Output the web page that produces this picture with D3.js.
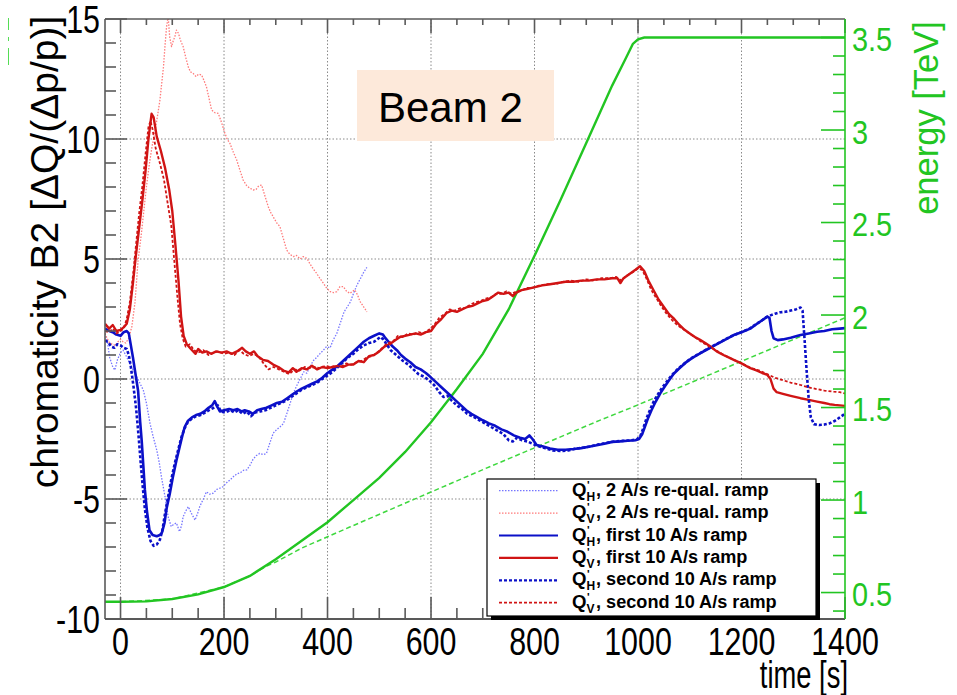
<!DOCTYPE html>
<html>
<head>
<meta charset="utf-8">
<script src="https://cdn.jsdelivr.net/npm/d3@7"></script>
<style>
	body { margin: 0; background: #ffffff; }
	svg { display: block; font-family: "Liberation Sans", Arial, sans-serif; }
</style>
</head>
<body>
<div id="div_id_main"></div>
<script>

// ---------------------------------------------------------------
// data, read off the picture : [time (s), chromaticity] / [time (s), energy (TeV)]

var vTimeTicks = [0, 200, 400, 600, 800, 1000, 1200, 1400];
var vChromaTicks = [-10, -5, 0, 5, 10, 15];
var vEnergyTicks = [0.5, 1, 1.5, 2, 2.5, 3, 3.5];

var vLegendNames = ["2 A/s re-qual. ramp", "2 A/s re-qual. ramp", "first 10 A/s ramp",
					"first 10 A/s ramp", "second 10 A/s ramp", "second 10 A/s ramp"];
var vLegendPlanes = ["H", "V", "H", "V", "H", "V"];

var dsEnergy_10As = [[-30,0.45],[0,0.45],[50,0.452],[100,0.465],[150,0.49],[200,0.53],[250,0.59],[300,0.68],
	[350,0.78],[400,0.88],[450,1.0],[500,1.12],[550,1.26],[600,1.42],[650,1.6],[700,1.79],[750,2.03],
	[800,2.32],[850,2.62],[900,2.93],[950,3.24],[975,3.38],[990,3.465],[1000,3.49],[1012,3.5],[1400,3.5]];

var dsEnergy_2As = [[-30,0.45],[0,0.45],[100,0.465],[200,0.53],[250,0.59],[280,0.64],[300,0.665],[350,0.74],
	[443,0.854],[705,1.17],[927,1.432],[985,1.497],[1400,1.985]];

var dsQH_2As = [[-30,1.9],[-25,1.5],[-21,0.9],[-15,0.5],[-11,0.37],[-6,0.8],[0,1.1],[5,1.2],[10,1.0],[18,0.65],
	[25,0.35],[31,0.1],[38,-0.2],[44,-0.46],[50,-1.0],[57,-1.85],[63,-2.4],[70,-2.96],[75,-3.5],[79,-4.07],
	[86,-4.9],[92,-5.74],[98,-6.15],[103,-6.05],[108,-6.0],[114,-6.36],[118,-6.1],[121,-5.74],[126,-5.5],
	[131,-5.32],[137,-5.6],[144,-5.88],[149,-5.6],[153,-5.32],[160,-5.0],[166,-4.7],[172,-4.8],[179,-4.76],
	[186,-4.6],[192,-4.55],[198,-4.49],[206,-4.3],[212,-4.2],[218,-4.07],[225,-3.95],[232,-3.9],[238,-3.8],
	[244,-3.79],[250,-3.6],[256,-3.35],[262,-3.2],[269,-3.1],[276,-3.15],[282,-3.1],[288,-2.7],[295,-2.26],
	[302,-2.1],[308,-2.0],[315,-1.85],[322,-1.4],[328,-1.0],[334,-0.6],[340,-0.3],[347,0.0],[354,0.3],
	[360,0.24],[366,0.5],[372,0.75],[379,0.9],[386,1.07],[392,1.2],[398,1.35],[405,1.3],[411,1.63],[418,1.9],
	[425,2.35],[432,2.8],[438,3.0],[444,3.2],[450,3.55],[457,3.92],[464,4.2],[470,4.45],[476,4.65]];

var dsQV_2As = [[-30,1.9],[-26,1.7],[-21,1.5],[-16,1.45],[-10,1.4],[-5,1.55],[0,1.65],[5,1.55],[10,1.5],[16,1.7],
	[22,2.2],[28,3.2],[34,4.96],[40,6.0],[45,7.0],[50,8.0],[56,9.0],[61,9.7],[66,10.24],[71,10.9],[76,11.6],
	[80,12.4],[83,13.0],[86,13.9],[89,14.68],[92,15.1],[95,14.26],[98.6,13.85],[102,14.1],[105,14.26],[108,14.54],
	[112,14.4],[116,14.1],[121,13.85],[126,13.4],[131,13.0],[135,12.8],[140,12.74],[146,12.6],[151,12.7],
	[156.6,12.67],[161,12.45],[166,12.18],[171,11.7],[176,11.21],[182,11.1],[188.8,11.07],[195,10.7],
	[201.7,10.24],[206,10.0],[211.4,9.82],[218,9.45],[224.4,9.13],[230,8.75],[237,8.29],[244,8.05],[250,7.95],
	[256.5,7.875],[262,7.9],[267,8.05],[272.7,8.08],[278,7.7],[285.5,7.18],[290,6.95],[295,6.76],[302,6.5],
	[308,6.35],[314,5.9],[321,5.375],[327,5.2],[334,5.1],[340,5.15],[347,5.0],[353,5.1],[360,5.03],[366,4.8],
	[372,4.6],[379,4.4],[385,4.2],[392,3.99],[398,3.8],[405,3.64],[412,3.6],[418,3.64],[424,3.85],[430.5,3.85],
	[437,3.65],[443.5,3.57],[448,3.65],[453,3.71],[458,3.5],[463,3.22],[470,3.0],[476,2.8]];

var dsQH_First = [[-30,2.1],[-22,2.0],[-15,1.95],[-8,1.85],[0,1.8],[6,1.95],[12,2.0],[16,1.9],[20,1.4],[24,0.9],
	[29,0.2],[34,-0.5],[38,-1.8],[41,-2.6],[44,-3.6],[47,-4.6],[51,-5.5],[56,-6.3],[62,-6.5],[70,-6.55],[76,-6.5],
	[80,-6.4],[85,-6.0],[89,-5.4],[95,-4.8],[101,-4.1],[108,-3.4],[114,-2.85],[119,-2.4],[124,-2.0],[130,-1.75],
	[138,-1.6],[146,-1.5],[154,-1.45],[162,-1.35],[170,-1.2],[177,-1.1],[182,-0.92],[187,-1.15],[192,-1.35],
	[200,-1.3],[210,-1.25],[218,-1.3],[226,-1.25],[234,-1.35],[240,-1.3],[248,-1.35],[256,-1.45],[264,-1.3],
	[272,-1.25],[282,-1.2],[292,-1.1],[302,-1.0],[312,-0.95],[322,-0.8],[332,-0.65],[342,-0.5],[350,-0.4],
	[360,-0.3],[370,-0.2],[380,-0.1],[390,0.05],[400,0.25],[410,0.4],[420,0.55],[430,0.75],[440,0.95],[450,1.15],
	[460,1.35],[470,1.55],[480,1.7],[490,1.8],[500,1.9],[507,1.85],[512,1.7],[518,1.55],[526,1.35],[534,1.2],
	[542,1.0],[550,0.85],[560,0.7],[570,0.5],[580,0.4],[590,0.25],[598,0.1],[608,-0.1],[618,-0.3],[628,-0.5],
	[638,-0.7],[648,-0.9],[658,-1.1],[668,-1.3],[678,-1.45],[690,-1.6],[700,-1.72],[712,-1.85],[724,-1.95],
	[736,-2.1],[748,-2.2],[760,-2.35],[772,-2.45],[782,-2.5],[790,-2.35],[796,-2.5],[804,-2.75],[815,-2.8],
	[830,-2.9],[845,-2.95],[860,-2.95],[875,-2.92],[890,-2.88],[905,-2.82],[920,-2.76],[935,-2.7],[950,-2.62],
	[965,-2.6],[980,-2.57],[995,-2.55],[1002,-2.5],[1008,-2.3],[1014,-1.95],[1020,-1.6],[1026,-1.3],[1034,-0.95],
	[1043,-0.6],[1052,-0.3],[1060,-0.05],[1069,0.22],[1080,0.45],[1092,0.68],[1105,0.88],[1120,1.07],[1135,1.25],
	[1150,1.42],[1165,1.6],[1185,1.83],[1200,1.95],[1217,2.1],[1230,2.3],[1240,2.45],[1250,2.6],[1254,2.55],
	[1258,2.0],[1262,1.7],[1270,1.62],[1280,1.65],[1295,1.72],[1314,1.83],[1330,1.9],[1346,1.97],[1360,2.0],
	[1375,2.07],[1390,2.1],[1400,2.12]];

var dsQV_First = [[-30,2.3],[-22,2.1],[-15,2.25],[-8,2.0],[0,2.05],[6,2.15],[12,2.3],[18,2.9],[24,4.0],[30,5.2],
	[36,6.3],[42,7.4],[48,8.6],[54,10.0],[60,11.05],[64,10.9],[70,10.1],[78,9.5],[86,8.8],[94,7.9],[100,7.0],
	[106,5.6],[112,4.1],[117,2.6],[122,1.8],[128,1.45],[136,1.25],[145,1.05],[150,1.25],[158,1.1],[166,1.15],
	[175,1.05],[185,1.15],[195,1.1],[205,1.15],[215,1.05],[225,1.15],[235,1.3],[242,1.15],[250,1.05],[258,1.15],
	[265,0.95],[275,0.8],[285,0.75],[295,0.6],[305,0.5],[315,0.35],[325,0.28],[333,0.45],[340,0.3],[350,0.45],
	[360,0.4],[370,0.55],[380,0.4],[390,0.5],[400,0.45],[410,0.5],[420,0.55],[430,0.5],[440,0.6],[450,0.6],
	[460,0.75],[470,0.7],[480,0.95],[490,1.0],[500,1.15],[510,1.35],[520,1.45],[530,1.6],[540,1.75],[550,1.8],
	[560,1.85],[570,1.9],[580,1.85],[590,1.95],[600,2.0],[610,2.3],[620,2.5],[630,2.75],[640,2.85],[650,2.8],
	[660,2.9],[670,3.0],[680,3.05],[690,3.15],[700,3.25],[710,3.3],[720,3.45],[730,3.6],[740,3.55],[750,3.6],
	[758,3.45],[765,3.6],[775,3.7],[785,3.75],[795,3.8],[805,3.85],[815,3.9],[830,3.95],[845,4.0],[860,4.05],
	[875,4.05],[890,4.1],[905,4.1],[920,4.15],[935,4.15],[950,4.2],[960,4.2],[966,4.0],[972,4.2],[985,4.4],
	[995,4.55],[1004,4.7],[1012,4.5],[1020,4.1],[1030,3.7],[1040,3.3],[1050,3.0],[1060,2.7],[1070,2.5],
	[1080,2.25],[1090,2.05],[1100,1.9],[1110,1.75],[1120,1.63],[1130,1.5],[1140,1.35],[1152,1.15],[1165,1.0],
	[1175,0.9],[1185,0.8],[1200,0.65],[1217,0.45],[1230,0.35],[1240,0.25],[1250,0.17],[1256,0.0],[1262,-0.4],
	[1268,-0.55],[1280,-0.62],[1295,-0.7],[1314,-0.8],[1330,-0.87],[1346,-0.94],[1360,-1.0],[1370,-1.05],
	[1380,-1.08],[1400,-1.12]];

var dsQH_Second = [[-30,1.6],[-24,1.55],[-18,1.35],[-12,1.3],[-6,1.45],[0,1.4],[6,1.3],[12,1.25],[16,1.0],[20,0.5],
	[25,-0.3],[30,-1.2],[35,-2.4],[39,-3.5],[43,-4.5],[47,-5.4],[52,-6.2],[58,-6.75],[64,-6.95],[70,-6.9],
	[76,-6.7],[81,-6.3],[86,-5.6],[92,-4.9],[98,-4.2],[105,-3.5],[112,-2.9],[118,-2.4],[124,-2.05],[130,-1.8],
	[138,-1.65],[146,-1.55],[155,-1.5],[163,-1.4],[171,-1.3],[180,-1.2],[188,-1.1],[194,-1.35],[202,-1.4],
	[212,-1.3],[220,-1.4],[228,-1.3],[236,-1.45],[244,-1.35],[252,-1.55],[260,-1.4],[270,-1.35],[280,-1.3],
	[290,-1.2],[300,-1.1],[310,-1.0],[320,-0.9],[330,-0.75],[340,-0.6],[350,-0.45],[360,-0.35],[370,-0.25],
	[380,-0.15],[390,0.0],[400,0.15],[410,0.3],[420,0.5],[430,0.7],[440,0.9],[450,1.05],[460,1.25],[470,1.4],
	[480,1.5],[490,1.55],[496,1.65],[502,1.75],[508,1.65],[514,1.45],[522,1.2],[530,1.05],[538,0.9],[546,0.75],
	[556,0.6],[566,0.4],[576,0.2],[586,0.1],[596,-0.05],[606,-0.25],[616,-0.55],[624,-0.75],[632,-0.7],
	[640,-0.9],[650,-1.1],[660,-1.25],[670,-1.45],[680,-1.55],[692,-1.7],[704,-1.85],[716,-2.0],[728,-2.15],
	[740,-2.3],[750,-2.55],[758,-2.6],[766,-2.45],[776,-2.55],[786,-2.6],[796,-2.7],[808,-2.8],[820,-2.88],
	[835,-2.98],[850,-3.0],[865,-2.98],[880,-2.9],[895,-2.86],[910,-2.8],[925,-2.72],[940,-2.66],[955,-2.6],
	[970,-2.58],[985,-2.56],[998,-2.52],[1005,-2.35],[1011,-2.0],[1017,-1.6],[1023,-1.3],[1030,-0.95],
	[1038,-0.65],[1047,-0.35],[1056,-0.1],[1065,0.15],[1076,0.4],[1088,0.62],[1100,0.82],[1115,1.02],
	[1130,1.2],[1145,1.38],[1160,1.55],[1180,1.78],[1197,1.93],[1214,2.08],[1228,2.28],[1238,2.42],[1248,2.58],
	[1256,2.65],[1265,2.72],[1275,2.78],[1285,2.8],[1295,2.85],[1305,2.9],[1314,2.98],[1318,2.85],[1322,1.6],
	[1326,0.3],[1330,-0.87],[1334,-1.6],[1340,-1.88],[1350,-1.92],[1360,-1.9],[1370,-1.85],[1380,-1.75],
	[1390,-1.6],[1400,-1.45]];

var dsQV_Second = [[-30,2.0],[-22,1.95],[-15,2.1],[-8,1.9],[0,2.0],[6,2.1],[12,2.5],[18,3.2],[24,4.3],[30,5.6],
	[36,6.9],[42,8.0],[48,9.3],[54,10.5],[58,10.75],[62,10.4],[68,9.6],[76,9.0],[84,8.3],[92,7.2],[98,6.4],
	[104,4.9],[110,3.4],[115,2.3],[120,1.7],[126,1.35],[134,1.45],[142,1.2],[150,1.1],[160,1.2],[170,1.0],
	[180,1.1],[190,1.15],[200,1.05],[210,1.1],[220,1.0],[230,1.2],[238,1.05],[248,0.95],[258,1.05],[268,0.9],
	[278,0.6],[286,0.4],[296,0.5],[306,0.4],[316,0.3],[326,0.2],[336,0.4],[346,0.35],[356,0.5],[366,0.45],
	[376,0.5],[386,0.45],[396,0.55],[406,0.5],[416,0.55],[426,0.5],[436,0.65],[446,0.6],[456,0.7],[466,0.75],
	[476,0.9],[486,0.95],[496,1.1],[506,1.3],[516,1.5],[526,1.55],[536,1.8],[546,1.75],[556,1.9],[566,1.85],
	[576,1.95],[586,1.9],[596,2.05],[606,2.25],[616,2.55],[626,2.7],[636,2.9],[646,2.85],[656,2.95],[666,2.95],
	[676,3.1],[686,3.2],[696,3.25],[706,3.35],[716,3.4],[726,3.55],[736,3.55],[746,3.65],[756,3.55],[766,3.65],
	[776,3.7],[786,3.8],[796,3.8],[810,3.9],[825,3.95],[840,3.95],[855,4.05],[870,4.1],[885,4.05],[900,4.15],
	[915,4.1],[930,4.2],[945,4.2],[958,4.25],[968,4.1],[978,4.3],[990,4.45],[1000,4.6],[1008,4.55],[1016,4.2],
	[1026,3.7],[1036,3.35],[1046,3.0],[1056,2.7],[1066,2.45],[1076,2.25],[1086,2.1],[1096,1.95],[1106,1.8],
	[1116,1.65],[1126,1.5],[1138,1.35],[1150,1.2],[1162,1.05],[1175,0.9],[1190,0.75],[1205,0.6],[1220,0.45],
	[1235,0.35],[1250,0.2],[1265,0.05],[1280,-0.05],[1295,-0.15],[1314,-0.25],[1330,-0.35],[1345,-0.42],
	[1360,-0.48],[1378,-0.53],[1390,-0.55],[1400,-0.6]];

// ---------------------------------------------------------------

var SVG_WIDTH = 957;
var SVG_HEIGHT = 695;

var PLOT_LEFT = 105;
var PLOT_RIGHT = 845;
var PLOT_TOP = 19;
var PLOT_BOTTOM = 619;

var TEXT_SQUEEZE = 0.8;

var COLOR_AXIS = "#5a5a5a";
var COLOR_GREEN = "#22c522";
var COLOR_BLUE = "#0b10c8";
var COLOR_RED = "#d01414";

var fScale_Time = d3.scaleLinear().domain([-30, 1400]).range([PLOT_LEFT, PLOT_RIGHT]);
var fScale_Chroma = d3.scaleLinear().domain([-10, 15]).range([PLOT_BOTTOM, PLOT_TOP]);
var fScale_Energy = d3.scaleLinear().domain([0.357, 3.6]).range([PLOT_BOTTOM, PLOT_TOP]);

var vSeries = [
	{ data: dsQH_2As,    color: "#7676ff", width: 1.3, dash: "1.5,1.5" },
	{ data: dsQV_2As,    color: "#ff7a7a", width: 1.3, dash: "1.5,1.5" },
	{ data: dsQH_First,  color: COLOR_BLUE, width: 2.6, dash: null },
	{ data: dsQV_First,  color: COLOR_RED,  width: 2.4, dash: null },
	{ data: dsQH_Second, color: COLOR_BLUE, width: 2.6, dash: "3,2" },
	{ data: dsQV_Second, color: COLOR_RED,  width: 1.8, dash: "3,2" }
];

function funcDraw_Main() {

	let svgMain = d3.select("#div_id_main")
					.append("svg")
						.attr("width", SVG_WIDTH)
						.attr("height", SVG_HEIGHT);

	svgMain.append("rect")
				.attr("width", SVG_WIDTH)
				.attr("height", SVG_HEIGHT)
				.attr("fill", "#ffffff");

	svgMain.append("clipPath")
				.attr("id", "clip_id_plot")
				.append("rect")
					.attr("x", PLOT_LEFT)
					.attr("y", PLOT_TOP)
					.attr("width", PLOT_RIGHT - PLOT_LEFT)
					.attr("height", PLOT_BOTTOM - PLOT_TOP);

	funcDraw_Grid(svgMain);
	funcDraw_Curves(svgMain);
	funcDraw_Frame(svgMain);
	funcDraw_EnergyAxis(svgMain);
	funcDraw_Titles(svgMain);
	funcDraw_Legend(svgMain);
	funcDraw_BeamLabel(svgMain);
}

function funcDraw_Grid(svgMain) {

	let gGrid = svgMain.append("g")
						.attr("stroke", "#8a8a8a")
						.attr("stroke-width", 1)
						.attr("stroke-dasharray", "1.5,2");

	gGrid.selectAll("line.grid_x")
			.data(vTimeTicks.filter(function (d) { return d < 1400; }))
			.enter()
			.append("line")
				.attr("x1", function (d) { return fScale_Time(d); })
				.attr("x2", function (d) { return fScale_Time(d); })
				.attr("y1", PLOT_TOP)
				.attr("y2", PLOT_BOTTOM);

	gGrid.selectAll("line.grid_y")
			.data(vChromaTicks.filter(function (d) { return d > -10 && d < 15; }))
			.enter()
			.append("line")
				.attr("x1", PLOT_LEFT)
				.attr("x2", PLOT_RIGHT)
				.attr("y1", function (d) { return fScale_Chroma(d); })
				.attr("y2", function (d) { return fScale_Chroma(d); });
}

function funcDraw_Curves(svgMain) {

	let gCurves = svgMain.append("g")
						.attr("clip-path", "url(#clip_id_plot)")
						.attr("fill", "none");

	let lineEnergy = d3.line()
						.x(function (d) { return fScale_Time(d[0]); })
						.y(function (d) { return fScale_Energy(d[1]); });

	let lineChroma = d3.line()
						.x(function (d) { return fScale_Time(d[0]); })
						.y(function (d) { return fScale_Chroma(d[1]); });

	gCurves.append("path")
				.attr("d", lineEnergy(dsEnergy_2As))
				.attr("stroke", "#3fd83f")
				.attr("stroke-width", 1.5)
				.attr("stroke-dasharray", "5,3");

	gCurves.append("path")
				.attr("d", lineEnergy(dsEnergy_10As))
				.attr("stroke", COLOR_GREEN)
				.attr("stroke-width", 2.4);

	for (let i = 0; i < vSeries.length; i++) {

		let pathCurve = gCurves.append("path")
								.attr("d", lineChroma(vSeries[i].data))
								.attr("stroke", vSeries[i].color)
								.attr("stroke-width", vSeries[i].width)
								.attr("stroke-linejoin", "round");

		if (vSeries[i].dash)
			pathCurve.attr("stroke-dasharray", vSeries[i].dash);
	}
}

function funcDraw_Frame(svgMain) {

	let gFrame = svgMain.append("g")
						.attr("stroke", COLOR_AXIS)
						.attr("stroke-width", 1.6);

	gFrame.append("line").attr("x1", PLOT_LEFT).attr("x2", PLOT_LEFT).attr("y1", PLOT_TOP).attr("y2", PLOT_BOTTOM);
	gFrame.append("line").attr("x1", PLOT_LEFT).attr("x2", PLOT_RIGHT).attr("y1", PLOT_TOP).attr("y2", PLOT_TOP);
	gFrame.append("line").attr("x1", PLOT_LEFT).attr("x2", PLOT_RIGHT).attr("y1", PLOT_BOTTOM).attr("y2", PLOT_BOTTOM)
				.attr("stroke", "#222");

	// ------- time ticks (bottom and top)

	let vTimeMinor = d3.range(0, 1401, 50);

	gFrame.selectAll("line.tick_time")
			.data(vTimeMinor)
			.enter()
			.append("line")
				.attr("x1", function (d) { return fScale_Time(d); })
				.attr("x2", function (d) { return fScale_Time(d); })
				.attr("y1", PLOT_BOTTOM)
				.attr("y2", function (d) { return PLOT_BOTTOM - ((d % 200 == 0) ? 22 : 11); });

	gFrame.selectAll("line.tick_time_top")
			.data(vTimeMinor)
			.enter()
			.append("line")
				.attr("x1", function (d) { return fScale_Time(d); })
				.attr("x2", function (d) { return fScale_Time(d); })
				.attr("y1", PLOT_TOP)
				.attr("y2", function (d) { return PLOT_TOP + ((d % 200 == 0) ? 14 : 6); });

	// ------- chromaticity ticks

	let vChromaMinor = d3.range(-10, 15.5, 1);

	gFrame.selectAll("line.tick_chroma")
			.data(vChromaMinor)
			.enter()
			.append("line")
				.attr("x1", PLOT_LEFT)
				.attr("x2", function (d) { return PLOT_LEFT + ((d % 5 == 0) ? 22 : 11); })
				.attr("y1", function (d) { return fScale_Chroma(d); })
				.attr("y2", function (d) { return fScale_Chroma(d); });

	// ------- labels

	svgMain.selectAll("text.text_class_time")
			.data(vTimeTicks)
			.enter()
			.append("text")
				.attr("text-anchor", "middle")
				.attr("font-size", 38)
				.attr("fill", "#000")
				.attr("transform", function (d) { return "translate(" + fScale_Time(d) + ",655) scale(" + TEXT_SQUEEZE + ",1)"; })
				.text(function (d) { return d; });

	svgMain.selectAll("text.text_class_chroma")
			.data(vChromaTicks)
			.enter()
			.append("text")
				.attr("text-anchor", "end")
				.attr("font-size", 38)
				.attr("fill", "#000")
				.attr("transform", function (d) { return "translate(100," + (fScale_Chroma(d) + 13.5) + ") scale(" + TEXT_SQUEEZE + ",1)"; })
				.text(function (d) { return d; });
}

function funcDraw_EnergyAxis(svgMain) {

	let gAxis = svgMain.append("g")
						.attr("stroke", COLOR_GREEN)
						.attr("stroke-width", 1.6);

	gAxis.append("line")
			.attr("x1", PLOT_RIGHT).attr("x2", PLOT_RIGHT)
			.attr("y1", PLOT_TOP).attr("y2", PLOT_BOTTOM);

	let vEnergyMinor = d3.range(4, 36).map(function (d) { return d / 10; });

	gAxis.selectAll("line.tick_energy")
			.data(vEnergyMinor)
			.enter()
			.append("line")
				.attr("x1", PLOT_RIGHT)
				.attr("x2", function (d) { return PLOT_RIGHT - ((Math.round(d * 10) % 5 == 0) ? 24 : 12); })
				.attr("y1", function (d) { return fScale_Energy(d); })
				.attr("y2", function (d) { return fScale_Energy(d); });

	svgMain.selectAll("text.text_class_energy")
			.data(vEnergyTicks)
			.enter()
			.append("text")
				.attr("text-anchor", "start")
				.attr("font-size", 34)
				.attr("fill", COLOR_GREEN)
				.attr("transform", function (d) { return "translate(852," + (fScale_Energy(d) + 13.5) + ") scale(0.85,1)"; })
				.text(function (d) { return d; });
}

function funcDraw_Titles(svgMain) {

	svgMain.append("text")
				.attr("text-anchor", "end")
				.attr("font-size", 38)
				.attr("fill", "#000")
				.attr("transform", "translate(848,688) scale(0.72,1)")
				.text("time [s]");

	svgMain.append("text")
				.attr("text-anchor", "middle")
				.attr("font-size", 39)
				.attr("fill", "#000")
				.attr("transform", "translate(58,252) rotate(-90)")
				.text("chromaticity B2 [\u0394Q/(\u0394p/p)]");

	svgMain.append("text")
				.attr("text-anchor", "middle")
				.attr("font-size", 34.5)
				.attr("fill", COLOR_GREEN)
				.attr("transform", "translate(938,118) rotate(-90)")
				.text("energy [TeV]");

	// small green dashes at the top left corner
	svgMain.append("line")
				.attr("x1", 8.5).attr("x2", 8.5)
				.attr("y1", 18).attr("y2", 66)
				.attr("stroke", "#55dd55")
				.attr("stroke-width", 1)
				.attr("stroke-dasharray", "12,7,4,7,17");
}

function funcDraw_Legend(svgMain) {

	let nLeft = 487;
	let nTop = 479;
	let nWidth = 329;
	let nHeight = 137;
	let nRowSpacing = 22.4;

	svgMain.append("rect")
				.attr("x", nLeft + 4).attr("y", nTop + 4)
				.attr("width", nWidth).attr("height", nHeight)
				.attr("fill", "#000");

	svgMain.append("rect")
				.attr("x", nLeft).attr("y", nTop)
				.attr("width", nWidth).attr("height", nHeight)
				.attr("fill", "#fff")
				.attr("stroke", "#000")
				.attr("stroke-width", 1.2);

	for (let i = 0; i < vSeries.length; i++) {

		let nY = nTop + 11.7 + i * nRowSpacing;

		let lineSample = svgMain.append("line")
								.attr("x1", 499).attr("x2", 558)
								.attr("y1", nY).attr("y2", nY)
								.attr("stroke", vSeries[i].color)
								.attr("stroke-width", Math.min(vSeries[i].width, 2.2));

		if (vSeries[i].dash)
			lineSample.attr("stroke-dasharray", vSeries[i].dash);

		let gText = svgMain.append("g")
							.attr("font-weight", "bold")
							.attr("fill", "#000");

		gText.append("text")
				.attr("x", 572).attr("y", nY + 5)
				.attr("font-size", 18.6)
				.text("Q");

		gText.append("text")
				.attr("x", 587).attr("y", nY - 2)
				.attr("font-size", 11)
				.text("'");

		gText.append("text")
				.attr("x", 586.5).attr("y", nY + 10)
				.attr("font-size", 12)
				.text(vLegendPlanes[i]);

		gText.append("text")
				.attr("font-size", 18.6)
				.attr("transform", "translate(596," + (nY + 5) + ") scale(0.975,1)")
				.text(", " + vLegendNames[i]);
	}
}

function funcDraw_BeamLabel(svgMain) {

	svgMain.append("rect")
				.attr("x", 357).attr("y", 70)
				.attr("width", 197).attr("height", 71)
				.attr("fill", "#fde9da");

	svgMain.append("text")
				.attr("x", 378).attr("y", 121.5)
				.attr("font-size", 42)
				.attr("fill", "#000")
				.text("Beam 2");
}

funcDraw_Main();

</script>
</body>
</html>
